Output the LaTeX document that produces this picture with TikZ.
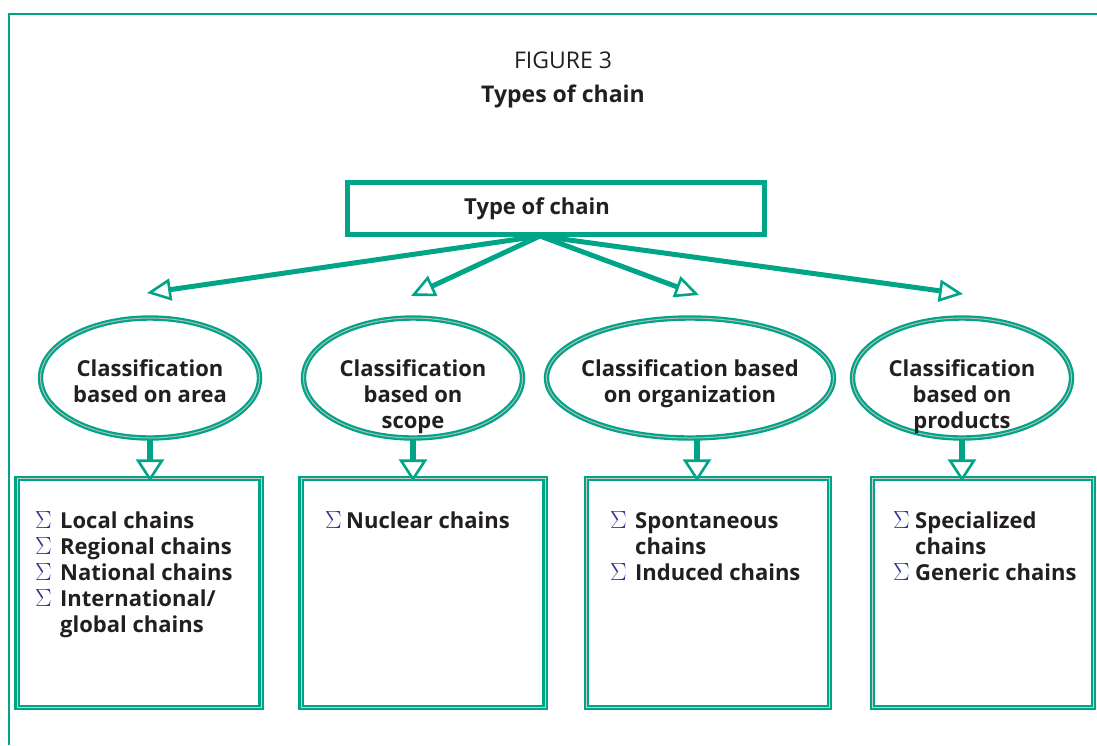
\documentclass[tikz,border=0pt]{standalone}
\usepackage{fontspec}
\setmainfont{Open Sans}
\usepackage{xcolor}
\usetikzlibrary{shapes.geometric, arrows.meta, positioning, calc}

\definecolor{chaingreen}{RGB}{0,165,135}
\definecolor{inktext}{RGB}{35,31,32}
\definecolor{sigmablue}{RGB}{46,49,146}

\newcommand{\bul}{\textcolor{sigmablue}{\fontsize{25}{26}\selectfont$\Sigma$}}
\newcommand{\boldtext}{\fontsize{22}{26}\selectfont\bfseries}

\tikzset{
  oval/.style={ellipse, draw=chaingreen, line width=2.2pt, double=gray!55,
    double distance=1pt, minimum width=219pt, minimum height=120pt, inner sep=0pt},
  ovaltext/.style={anchor=north, align=center, font=\boldtext, text=inktext},
  listbox/.style={draw=chaingreen, line width=2.2pt, double=gray!40,
    double distance=1pt, inner sep=0pt},
  listtext/.style={anchor=north west, inner sep=0pt, font=\boldtext, text=inktext},
  fanarrow/.style={draw=chaingreen, line width=5pt,
    -{Triangle[open, length=24pt, width=22pt, line width=2.6pt]}},
  downarrow/.style={draw=chaingreen, line width=6pt,
    -{Triangle[open, length=22pt, width=28pt, line width=2.6pt]}}
}

\begin{document}
\begin{tikzpicture}[x=1pt, y=-1pt]
  \useasboundingbox (0,0) rectangle (1097,745);

  % Frame
  \draw[chaingreen, line width=2.6pt] (9,745) -- (9,14) -- (1097,14);

  % Title
  \node[text=inktext, font=\fontsize{23}{26}\selectfont] (fig) at (563,60) {FIGURE 3};
  \node[text=inktext, font=\fontsize{23}{26}\selectfont\bfseries] (title) at (563,96) {Types of chain};

  % Top box
  \node[draw=chaingreen, line width=5pt, minimum width=417pt, minimum height=52pt,
    inner sep=0pt] (type) at (556,208) {};
  \node[font=\fontsize{22}{26}\selectfont\bfseries, text=inktext] (typetext) at (537,209) {Type of chain};

  % Ellipses
  \node[oval] (area) at (150,378) {};
  \node[oval] (scope) at (413,378) {};
  \node[oval, minimum width=287pt] (org) at (690,378) {};
  \node[oval] (prod) at (962,378) {};

  \node[ovaltext] (areatext) at (150,356) {Classification\\based on area};
  \node[ovaltext] (scopetext) at (413,356) {Classification\\based on\\scope};
  \node[ovaltext] (orgtext) at (690,356) {Classification based\\on organization};
  \node[ovaltext] (prodtext) at (962,356) {Classification\\based on\\products};

  % Fan arrows from top box
  \coordinate (src) at (540,236);
  \coordinate (tip1) at (147,293);
  \coordinate (tip2) at (411,296);
  \coordinate (tip3) at (699,295);
  \coordinate (tip4) at (963,294);
  \foreach \t in {tip1,tip2,tip3,tip4}
    \draw[fanarrow] (src) -- (\t);

  % List boxes
  \node[listbox, minimum width=244pt, minimum height=229pt] (box1) at (139,593) {};
  \node[listbox, minimum width=244pt, minimum height=229pt] (box2) at (423,593) {};
  \node[listbox, minimum width=243pt, minimum height=229pt] (box3) at (708,593) {};
  \node[listbox, minimum width=221pt, minimum height=229pt] (box4) at (983,593) {};

  % Arrows down
  \draw[downarrow] (area.south) -- ($(area.south |- box1.north)+(0,4)$);
  \draw[downarrow] (scope.south) -- ($(scope.south |- box2.north)+(0,4)$);
  \draw[downarrow] ($(org.south)+(7,0)$) -- ($(org.south |- box3.north)+(7,4)$);
  \draw[downarrow] (prod.south) -- ($(prod.south |- box4.north)+(0,4)$);

  % Lists
  \node[listtext] (list1) at (35,510) {\begin{tabular}{@{}p{25pt}@{}l@{}}
    \bul & Local chains\\
    \bul & Regional chains\\
    \bul & National chains\\
    \bul & International/\\
         & global chains
  \end{tabular}};
  \node[listtext] (list2) at (325,510) {\begin{tabular}{@{}p{21pt}@{}l@{}}
    \bul & Nuclear chains
  \end{tabular}};
  \node[listtext] (list3) at (610,510) {\begin{tabular}{@{}p{25pt}@{}l@{}}
    \bul & Spontaneous\\
         & chains\\
    \bul & Induced chains
  \end{tabular}};
  \node[listtext] (list4) at (893,510) {\begin{tabular}{@{}p{22pt}@{}l@{}}
    \bul & Specialized\\
         & chains\\
    \bul & Generic chains
  \end{tabular}};
\end{tikzpicture}
\end{document}
